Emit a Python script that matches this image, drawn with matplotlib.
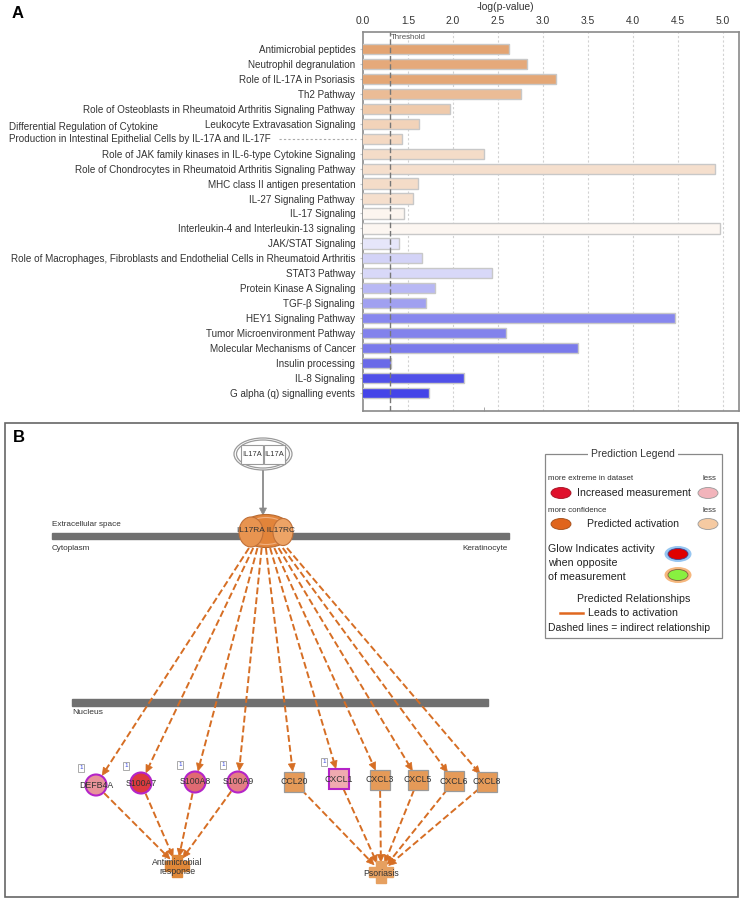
import numpy as np
import matplotlib
matplotlib.use('Agg')
import matplotlib.pyplot as plt
from matplotlib.patches import Ellipse, Rectangle, Circle, Polygon

plt.rcParams['font.family'] = ['Liberation Sans', 'DejaVu Sans']

# ---- panel A data ----
pathways = ['Antimicrobial peptides', 'Neutrophil degranulation', 'Role of IL-17A in Psoriasis',
            'Th2 Pathway', 'Role of Osteoblasts in Rheumatoid Arthritis Signaling Pathway',
            'Leukocyte Extravasation Signaling', '',
            'Role of JAK family kinases in IL-6-type Cytokine Signaling',
            'Role of Chondrocytes in Rheumatoid Arthritis Signaling Pathway',
            'MHC class II antigen presentation', 'IL-27 Signaling Pathway', 'IL-17 Signaling',
            'Interleukin-4 and Interleukin-13 signaling', 'JAK/STAT Signaling',
            'Role of Macrophages, Fibroblasts and Endothelial Cells in Rheumatoid Arthritis',
            'STAT3 Pathway', 'Protein Kinase A Signaling', 'TGF-β Signaling',
            'HEY1 Signaling Pathway', 'Tumor Microenvironment Pathway',
            'Molecular Mechanisms of Cancer', 'Insulin processing', 'IL-8 Signaling',
            'G alpha (q) signalling events']
neglogp = [2.62, 2.82, 3.15, 2.76, 1.97, 1.62, 1.43, 2.35, 4.91, 1.61, 1.56, 1.46,
           4.97, 1.40, 1.66, 2.43, 1.80, 1.70, 4.47, 2.585, 3.385, 1.31, 2.12, 1.73]
long_label = ['Differential Regulation of Cytokine',
              'Production in Intestinal Epithelial Cells by IL-17A and IL-17F']
tick_vals = [1.0, 1.5, 2.0, 2.5, 3.0, 3.5, 4.0, 4.5, 5.0]
tick_labels = ['0.0', '1.5', '2.0', '2.5', '3.0', '3.5', '4.0', '4.5', '5.0']
threshold = 1.3

bar_colors = ['#e3a472', '#e5a97a', '#e4a776', '#ebbc96', '#efcaab', '#f2d3b9', '#f4d9c3',
              '#f4dcc8', '#f5dfcd', '#f4dcc8', '#f5dfcd', '#fcf5ef', '#fcf6f1', '#e6e6fa',
              '#d3d3f7', '#d8d8f8', '#b8b8f4', '#a0a0f0', '#8787ee', '#8282ec', '#7a7aeb',
              '#6a6ae8', '#5050e8', '#4444e8']

# ---- panel B data ----
genes = ['DEFB4A', 'S100A7', 'S100A8', 'S100A9', 'CCL20', 'CXCL1', 'CXCL3', 'CXCL5', 'CXCL6', 'CXCL8']
gene_shape = ['circle'] * 4 + ['square'] * 6
gene_fill = ['#e8939a', '#de3a3e', '#e06a72', '#e47e84', '#e59a58', '#f0aab0',
             '#e59a58', '#e59a58', '#e59a58', '#e59a58']
gene_measured = [True, True, True, True, False, True, False, False, False, False]
gene_badge = [True, True, True, True, False, True, False, False, False, False]
gene_target = [0, 0, 0, 0, 1, 1, 1, 1, 1, 1]
targets = ['Antimicrobial\nresponse', 'Psoriasis']

W, H = 744, 900
fig = plt.figure(figsize=(W / 100, H / 100), dpi=100)

# background axes in pixel coordinates for panel B and labels
bg = fig.add_axes([0, 0, 1, 1])
bg.set_xlim(0, W)
bg.set_ylim(H, 0)
bg.axis('off')

# ---- panel A ----
ax_l, ax_r, ax_t, ax_b = 363, 739, 32, 411
ax = fig.add_axes([ax_l / W, 1 - ax_b / H, (ax_r - ax_l) / W, (ax_b - ax_t) / H])
y = np.arange(len(pathways))
ax.barh(y, neglogp, height=0.68, color=bar_colors, edgecolor='#c8c8c8', linewidth=1, zorder=3)
ax.set_xlim(1.033, 5.18)
ax.set_ylim(len(pathways) - 1 + 1.2, -1.13)
ax.set_yticks(y)
ax.set_yticklabels(pathways, fontsize=7.1, color='#333333')
ax.tick_params(axis='y', length=2, width=0.8, color='#c8c8c8', pad=3.5)
ax.xaxis.tick_top()
ax.set_xticks(tick_vals)
ax.set_xticklabels(tick_labels, fontsize=7.4, color='#333333')
ax.tick_params(axis='x', length=0, pad=4)
ax.set_xticks([2.35], minor=True)
ax.tick_params(axis='x', which='minor', bottom=True, top=False, direction='in', length=3, color='#999999')
for v in tick_vals[1:]:
    ax.axvline(v, color='#d2d2d2', lw=0.8, ls=(0, (2, 2)), zorder=1)
ax.axvline(threshold, color='#777777', lw=1, ls=(0, (4, 2)), zorder=4)
ax.text(threshold + 0.01, -0.75, 'Threshold', fontsize=5.7, color='#555555', va='center')
for s in ax.spines.values():
    s.set_color('#8a8a8a')
    s.set_linewidth(1.2)

fig.text(505 / W, 1 - 7 / H, '-log(p-value)', fontsize=7.4, color='#333333', ha='center', va='center')
fig.text(12 / W, 1 - 14 / H, 'A', fontsize=12, fontweight='bold', va='center')
bg.text(9, 127, long_label[0], fontsize=7.1, color='#333333', va='center')
bg.text(9, 139, long_label[1], fontsize=7.1, color='#333333', va='center')
bg.plot([279, 356], [139, 139], color='#aaaaaa', lw=0.8, ls=(0, (2, 2)))

# ---- panel B ----
bg.add_patch(Rectangle((5, 423), 733, 474, fill=False, edgecolor='#666666', lw=1.2))
bg.text(13, 437, 'B', fontsize=12, fontweight='bold', va='center')

orange = '#d66e24'


def arrow(x0, y0, x1, y1, color=orange, dashed=True, head=7.5, hw=3.5, lw=1.4):
    dx, dy = x1 - x0, y1 - y0
    L = np.hypot(dx, dy)
    ux, uy = dx / L, dy / L
    bx, by = x1 - ux * head, y1 - uy * head
    bg.plot([x0, bx], [y0, by], color=color, lw=lw, ls=(0, (3.5, 1.6)) if dashed else '-',
            solid_capstyle='butt', zorder=2)
    bg.add_patch(Polygon([(x1, y1), (bx - uy * hw, by + ux * hw), (bx + uy * hw, by - ux * hw)],
                         closed=True, facecolor=color, edgecolor=color, lw=0.5, zorder=3))


# membranes
bg.add_patch(Rectangle((52, 532.5), 457, 6, color='#707070', zorder=1))
bg.text(52, 524, 'Extracellular space', fontsize=5.9, color='#333333', va='center')
bg.text(52, 548, 'Cytoplasm', fontsize=5.9, color='#333333', va='center')
bg.text(508, 549, 'Keratinocyte', fontsize=5.9, color='#333333', va='center', ha='right')
bg.add_patch(Rectangle((72, 699), 416, 6.5, color='#707070', zorder=1))
bg.text(72, 713, 'Nucleus', fontsize=6.1, color='#333333', va='center')

# IL17A complex
bg.add_patch(Ellipse((263, 454), 58, 32, fill=False, edgecolor='#9a9a9a', lw=0.9, zorder=3))
bg.add_patch(Ellipse((263, 454), 53, 28, fill=False, edgecolor='#9a9a9a', lw=0.9, zorder=3))
bg.add_patch(Rectangle((241, 444.5), 21.5, 19, facecolor='white', edgecolor='#9a9a9a', lw=0.8, zorder=4))
bg.add_patch(Rectangle((263.5, 444.5), 21.5, 19, facecolor='white', edgecolor='#9a9a9a', lw=0.8, zorder=4))
bg.text(252, 454, 'IL17A', fontsize=5.4, ha='center', va='center', color='#333333', zorder=5)
bg.text(274.5, 454, 'IL17A', fontsize=5.4, ha='center', va='center', color='#333333', zorder=5)
arrow(263, 470, 263, 515, color='#8a8a8a', dashed=False, head=7, hw=3.5, lw=1.3)

# IL17RA / IL17RC complex
bg.add_patch(Ellipse((266, 531), 52, 33, facecolor='#e2843a', edgecolor='#b86a30', lw=0.8, zorder=4))
bg.add_patch(Ellipse((266, 531), 44, 27, facecolor='none', edgecolor='#f0b080', lw=0.8, zorder=4))
bg.add_patch(Ellipse((251, 532), 24, 30, facecolor='#e89450', edgecolor='#c07038', lw=0.8, zorder=5))
bg.add_patch(Ellipse((283, 532), 20, 27, facecolor='#eda466', edgecolor='#c07038', lw=0.8, zorder=5))
bg.text(266, 531, 'IL17RA IL17RC', fontsize=6, ha='center', va='center', color='#333333', zorder=6)

# gene nodes
node_x = [96, 141, 195, 238, 294, 339, 380, 418, 454, 487]
node_y = [785, 783, 782, 782, 782, 779, 780, 780, 781, 782]
start_x = np.linspace(249, 287, len(genes))
target_xy = [(177, 866), (381, 872)]
r = 10.5
for i, g in enumerate(genes):
    cx, cy = node_x[i], node_y[i]
    sx, sy = start_x[i], 548
    d = np.hypot(cx - sx, cy - sy)
    off = r + 1 if gene_shape[i] == 'circle' else 11
    arrow(sx, sy, cx - (cx - sx) / d * off, cy - (cy - sy) / d * off)
    tx, ty = target_xy[gene_target[i]]
    d2 = np.hypot(tx - cx, ty - cy)
    ux, uy = (tx - cx) / d2, (ty - cy) / d2
    arrow(cx + ux * off, cy + uy * off, tx - ux * 10, ty - uy * 10)
    ec = '#b424c8' if gene_measured[i] else '#9a9a9a'
    if gene_shape[i] == 'circle':
        bg.add_patch(Circle((cx, cy), r, facecolor=gene_fill[i], edgecolor=ec, lw=1.5, zorder=5))
    else:
        bg.add_patch(Rectangle((cx - 10, cy - 10), 20, 20, facecolor=gene_fill[i], edgecolor=ec,
                               lw=1.5 if gene_measured[i] else 0.9, zorder=5))
    bg.text(cx, cy, g, fontsize=6.3, ha='center', va='center', color='#333333', zorder=6)
    if gene_badge[i]:
        bg.add_patch(Rectangle((cx - 18, cy - 21.5), 6, 8, facecolor='white', edgecolor='#aaaaaa',
                               lw=0.7, zorder=6))
        bg.text(cx - 15, cy - 17.5, '1', fontsize=4.5, color='#3344dd', ha='center', va='center', zorder=7)

# target crosses
for (tx, ty), t, col in zip(target_xy, targets, ['#e08838', '#e6a060']):
    bg.add_patch(Rectangle((tx - 12, ty - 5), 24, 10, color=col, zorder=4))
    bg.add_patch(Rectangle((tx - 5, ty - 11), 10, 22, color=col, zorder=4))
    bg.text(tx, ty + 1, t, fontsize=6.3, ha='center', va='center',
            color='#333333', zorder=6, linespacing=1.0)

# prediction legend
bg.add_patch(Rectangle((545, 454), 177, 184, fill=False, edgecolor='#888888', lw=0.9))
bg.text(633, 454, 'Prediction Legend', fontsize=7.5, ha='center', va='center', color='#333333',
        bbox=dict(facecolor='white', edgecolor='none', pad=2))
bg.text(548, 479, 'more extreme in dataset', fontsize=5.7, color='#333333', va='center')
bg.text(709, 479, 'less', fontsize=5.7, color='#333333', va='center', ha='center')
bg.add_patch(Ellipse((561, 493), 20, 11, facecolor='#e0102c', edgecolor='#a01020', lw=0.6))
bg.text(577, 493, 'Increased measurement', fontsize=7.6, color='#222222', va='center')
bg.add_patch(Ellipse((708, 493), 20, 11, facecolor='#f2b4bb', edgecolor='#999999', lw=0.6))
bg.text(548, 511, 'more confidence', fontsize=5.7, color='#333333', va='center')
bg.text(709, 511, 'less', fontsize=5.7, color='#333333', va='center', ha='center')
bg.add_patch(Ellipse((561, 524), 20, 11, facecolor='#e0641c', edgecolor='#a04c18', lw=0.6))
bg.text(587, 524, 'Predicted activation', fontsize=7.6, color='#222222', va='center')
bg.add_patch(Ellipse((708, 524), 20, 11, facecolor='#f5caa2', edgecolor='#999999', lw=0.6))
bg.text(548, 549, 'Glow Indicates activity', fontsize=7.7, color='#222222', va='center')
bg.text(548, 563, 'when opposite', fontsize=7.7, color='#222222', va='center')
bg.text(548, 577, 'of measurement', fontsize=7.7, color='#222222', va='center')
bg.add_patch(Ellipse((678, 554), 27, 16, facecolor='#8cc0f0', edgecolor='none', alpha=0.9))
bg.add_patch(Ellipse((678, 554), 20, 11, facecolor='#e00000', edgecolor='#404090', lw=0.6))
bg.add_patch(Ellipse((678, 575), 27, 16, facecolor='#f5b070', edgecolor='none', alpha=0.9))
bg.add_patch(Ellipse((678, 575), 20, 11, facecolor='#88f040', edgecolor='#806040', lw=0.6))
bg.text(634, 599, 'Predicted Relationships', fontsize=7.7, color='#222222', va='center', ha='center')
bg.plot([560, 583], [613, 613], color='#e06820', lw=1.8)
bg.text(588, 613, 'Leads to activation', fontsize=7.7, color='#222222', va='center')
bg.text(548, 628, 'Dashed lines = indirect relationship', fontsize=7.5, color='#222222', va='center')

fig.savefig('out.png', dpi=100)
